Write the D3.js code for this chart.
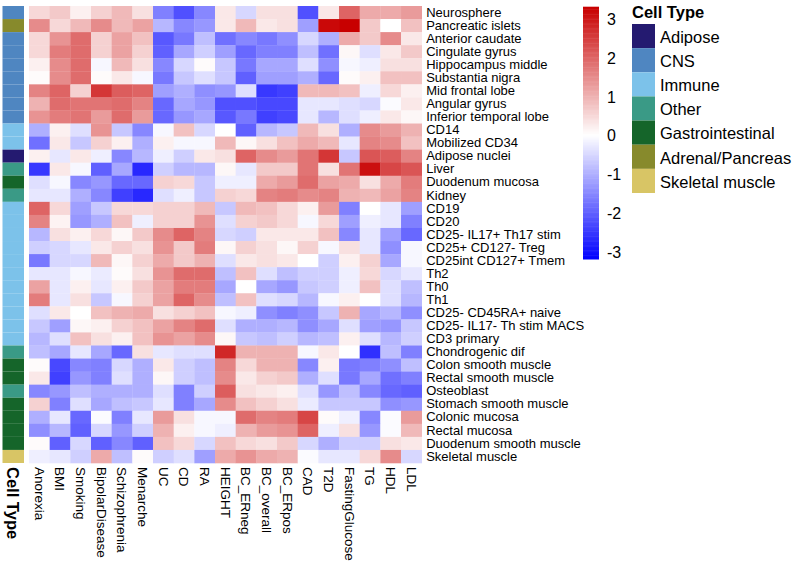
<!DOCTYPE html>
<html>
<head>
<meta charset="utf-8">
<script src="https://cdn.jsdelivr.net/npm/d3@7"></script>
<style>
  html, body { margin: 0; padding: 0; background: #ffffff; }
  svg { display: block; font-family: "Liberation Sans", Arial, sans-serif; }
</style>
</head>
<body>
<svg id="chart" width="800" height="567"></svg>
<script>
const traits = ["Anorexia","BMI","Smoking","BipolarDisease","Schizophrenia","Menarche","UC","CD","RA","HEIGHT","BC_ERneg","BC_overall","BC_ERpos","CAD","T2D","FastingGlucose","TG","HDL","LDL"];

const tissues = ["Neurosphere","Pancreatic islets","Anterior caudate","Cingulate gyrus","Hippocampus middle","Substantia nigra","Mid frontal lobe","Angular gyrus","Inferior temporal lobe","CD14","Mobilized CD34","Adipose nuclei","Liver","Duodenum mucosa","Kidney","CD19","CD20","CD25- IL17+ Th17 stim","CD25+ CD127- Treg","CD25int CD127+ Tmem","Th2","Th0","Th1","CD25- CD45RA+ naive","CD25- IL17- Th stim MACS","CD3 primary","Chondrogenic dif","Colon smooth muscle","Rectal smooth muscle","Osteoblast","Stomach smooth muscle","Colonic mucosa","Rectal mucosa","Duodenum smooth muscle","Skeletal muscle"];

const tissueTypes = ["CNS","Adrenal/Pancreas","CNS","CNS","CNS","CNS","CNS","CNS","CNS","Immune","Immune","Adipose","Other","Gastrointestinal","Other","Immune","Immune","Immune","Immune","Immune","Immune","Immune","Immune","Immune","Immune","Immune","Other","Gastrointestinal","Gastrointestinal","Other","Gastrointestinal","Gastrointestinal","Gastrointestinal","Gastrointestinal","Skeletal muscle"];

const cellTypes = ["Adipose","CNS","Immune","Other","Gastrointestinal","Adrenal/Pancreas","Skeletal muscle"];
const cellTypeColors = ["#241a70","#4f86c1","#7cc2ea","#3a9a86","#15652a","#878a2c","#d8c565"];

const scaleTicks = [3,2,1,0,-1,-2,-3];
const scaleRange = [-3.2, 3.3];

// values: rows = tissues, columns = traits
const values = [
 [ 0.5, 0.7, 0.2, 0.6, 0.9, 0.4,-1.6,-2.2,-1.5, 0.3,-0.5, 0.4, 0.4,-2.2, 0.3, 2.0, 1.1, 1.1, 1.3],
 [ 1.5, 0.5, 0.9, 1.5, 0.9, 1.2,-0.9,-1.5,-1.3, 0.3, 0.9, 0.3, 0.4,-1.2, 3.2, 3.3, 0.7, 0.0, 0.8],
 [ 0.5, 1.4, 1.9, 0.6, 1.2, 0.8,-2.1,-1.7,-0.8,-1.8,-1.5,-1.7,-1.4,-0.5,-1.0, 1.1, 0.7, 1.5, 0.3],
 [ 0.5, 1.7, 1.9, 0.6, 1.2, 0.6,-2.0,-1.1,-0.6,-1.2,-1.9,-1.6,-1.6,-0.8,-1.8, 0.1,-0.4, 0.3, 0.7],
 [ 0.2, 1.5, 1.9,-0.1, 0.9, 0.4,-1.5,-0.5, 0.05,-0.7,-1.7,-1.1,-1.1,-0.4,-1.4,-0.1,-0.2, 0.4, 0.4],
 [ 0.05,1.5, 1.9, 0.05,0.3,-0.1,-1.7,-0.7,-0.4,-0.7,-2.0,-1.2,-1.2,-1.0,-1.9, 0.05,0.2, 0.8, 0.8],
 [ 1.6, 2.0, 0.6, 2.6, 2.1, 2.0,-1.2,-1.0,-1.4,-1.3,-0.4,-2.5,-2.4, 0.9, 0.9, 0.8,-0.2, 0.5, 0.2],
 [ 1.0, 1.9, 1.8, 1.8, 1.9, 1.6,-1.9,-1.1,-1.3,-2.2,-2.2,-2.3,-2.3,-0.3,-0.3,-0.4,-0.5,-0.05,0.3],
 [ 1.4, 1.7, 1.8, 1.3, 1.9, 1.3,-1.9,-1.3,-1.1,-2.1,-1.7,-2.4,-2.3,-0.3,-0.9,-0.4,-0.2, 0.3, 0.1],
 [-1.0, 0.2,-0.4, 1.4,-0.7,-1.5,-0.1, 0.8,-0.5, 0.0,-2.0,-0.9,-0.7, 0.9, 0.4,-1.0, 1.5, 1.3, 1.0],
 [-1.8, 0.3,-0.7, 0.6, 0.2,-1.0, 0.2,-0.1,-0.1, 0.9, 0.1, 0.4, 0.8, 1.1, 0.9,-0.3, 1.6, 1.5, 0.8],
 [ 0.2,-0.3, 0.3,-0.2,-1.5,-0.9,-0.2,-0.6, 0.3, 0.4, 2.0, 1.5, 1.3, 1.8, 2.6,-0.7, 2.2, 2.1, 1.6],
 [-2.5, 0.3,-0.1,-2.0,-1.1,-2.7,-0.6,-0.9,-0.9, 0.1,-0.3, 0.7, 0.7, 1.8, 0.4, 1.8, 3.1, 2.4, 2.2],
 [-0.4,-0.1,-1.5,-1.3,-1.9,-1.9, 0.6, 0.5,-0.7,-0.2,-0.2, 1.1, 1.3, 1.9, 1.2, 1.1, 0.4, 1.1, 1.7],
 [-0.3,-0.3,-1.0,-1.5,-2.4,-2.7,-0.4,-0.2,-0.7, 0.6, 0.5, 1.6, 1.7, 1.5, 1.6, 1.0, 0.9, 1.2, 1.6],
 [ 2.0, 0.5,-1.2,-0.7, 0.5, 0.5, 0.6, 0.6, 0.9,-0.7, 0.9, 0.8, 0.5, 0.2, 1.3,-1.6, 0.0,-0.3,-1.2],
 [ 1.6, 0.15,-1.3,-1.0,0.8,-0.2, 0.6, 0.6, 1.4,-0.4, 0.6, 0.7, 0.5,-0.1, 0.5,-1.2,-0.2,-0.3,-1.6],
 [-0.9, 0.4, 0.2, 0.5, 0.1, 0.7, 1.5, 2.0, 1.6,-0.5,-0.6, 0.3, 0.3, 0.3, 0.8,-1.5,-0.3,-1.2,-1.9],
 [-0.6,-0.5,-0.3, 0.3, 0.6, 0.4, 1.4, 0.7, 1.7, 0.1, 0.6, 0.4, 0.1, 0.6,-0.1, 0.4,-0.3,-1.4,-0.1],
 [-1.7,-0.5,-0.5, 0.9, 0.1, 0.6, 1.1, 0.7, 1.0,-0.4, 0.3, 0.4, 0.3, 0.0,-0.6, 0.2, 0.6,-1.1,-0.1],
 [-0.3,-0.3,-0.1,-0.25,0.05,0.4, 1.4, 1.9, 1.9,-0.8, 0.8,-0.4,-0.8,-0.6,-0.6,-0.2, 0.5,-0.5,-0.3],
 [ 1.2,-0.3, 0.2,-0.3, 0.2, 0.7, 1.2, 1.7, 1.7,-1.1, 0.0,-1.1,-1.3,-0.7,-0.6,-0.2, 0.8,-0.4,-0.8],
 [ 1.7,-0.3, 0.4,-0.7,-0.1, 0.6, 1.2, 2.0, 1.5,-0.8, 0.8,-0.4,-0.5,-0.9,-0.1, 0.2, 0.0,-0.4,-0.9],
 [-0.4, 0.3, 0.0, 0.8, 1.0, 1.1, 0.4, 0.6, 0.8,-0.1,-0.2,-1.4,-1.6,-1.4,-0.7, 1.0,-1.1,-0.9,-1.4],
 [-0.7,-1.2, 0.1, 0.2, 0.6, 0.8, 1.2, 1.6, 1.9,-0.4,-1.0,-1.0,-0.9,-1.4,-1.1,-0.4,-1.2,-1.3,-0.7],
 [-0.9,-0.4, 0.8, 0.4, 0.2, 0.8, 1.4, 1.2, 1.5, 0.1,-0.7,-0.8,-0.6,-0.9,-0.8, 0.2,-0.4,-0.9,-0.6],
 [-0.8,-1.1,-0.3,-1.1,-1.9, 0.4,-0.3,-0.4,-0.4, 2.8, 1.0, 1.0, 1.0,-0.1, 0.3, 0.0,-2.6,-0.8,-1.6],
 [ 0.05,-2.3,-1.5,-1.6,-0.5,-1.0, 0.3,-0.6,-0.8, 1.6, 0.5, 1.0, 1.0,-1.5, 0.2,-1.7,-1.6,-1.4,-0.8],
 [ 0.3,-2.4,-1.3,-1.6,-0.4,-1.0, 0.1,-0.6,-0.8, 1.5, 0.3, 0.6, 0.7,-1.0,-0.4,-1.7,-1.1,-1.8,-1.6],
 [-1.5,-1.3,-0.8,-1.0,-1.0,-1.0,-0.4,-1.6,-0.6, 2.1, 0.4, 0.3, 0.2,-0.4,-1.3,-0.8,-1.5,-1.9,-2.0],
 [ 0.6,-1.6,-0.4,-1.1,-0.8,-0.7,-0.3,-1.6,-1.1, 1.5, 0.8, 0.6, 0.4,-0.25,-0.7,-0.7,-0.7,-1.4,-1.3],
 [-1.0,-0.3,-1.9,-0.05,-1.6,-0.3,1.3, 0.4,-0.1,-0.1, 1.9, 1.6, 1.7, 2.4, 0.05,-0.2,-1.5,-0.05,1.3],
 [-1.4,-0.9,-2.0,-0.5,-1.3,-0.6, 1.0, 0.2,-0.1,-0.2, 1.0, 1.3, 1.4, 2.0,-0.2, 0.4,-1.3,-0.05,0.9],
 [ 0.05,-2.0,-0.5,-2.0,-1.5,-2.0, 0.8, 0.5,-0.5, 0.8, 0.5, 0.4, 0.7,-0.5,-1.0,-0.6,-0.6, 0.4, 0.3],
 [-0.2,-0.3,-0.6, 1.1,-0.8, 0.05,-0.6,-0.4,-1.2, 1.1, 1.4, 1.1, 1.0,-0.05,-0.3,-0.3, 0.5, 1.5,-0.5]
];

const svg = d3.select("#chart");

const heat = { left: 29, top: 6, right: 421.7, bottom: 463 };
const x = d3.scaleBand().domain(traits).range([heat.left, heat.right]).padding(0);
const y = d3.scaleBand().domain(tissues).range([heat.top, heat.bottom]).padding(0);
const color = d3.scaleLinear().domain([scaleRange[0], 0, scaleRange[1]])
  .range(["#0000ff", "#ffffff", "#c80000"]).clamp(true);
const typeColor = d3.scaleOrdinal().domain(cellTypes).range(cellTypeColors);

// annotation column
const annX = d3.scaleBand().domain(["Cell Type"]).range([2.5, 24]);
svg.append("g").selectAll("rect").data(tissues).join("rect")
  .attr("x", annX("Cell Type"))
  .attr("y", d => y(d))
  .attr("width", annX.bandwidth())
  .attr("height", y.bandwidth())
  .attr("fill", (d, i) => typeColor(tissueTypes[i]));

// heatmap cells
const cells = [];
values.forEach((row, i) => row.forEach((v, j) => cells.push({ t: tissues[i], c: traits[j], v })));
svg.append("g").selectAll("rect").data(cells).join("rect")
  .attr("x", d => x(d.c))
  .attr("y", d => y(d.t))
  .attr("width", x.bandwidth() + 0.3)
  .attr("height", y.bandwidth() + 0.3)
  .attr("fill", d => color(d.v));

// row labels
const rowAxis = svg.append("g")
  .attr("transform", `translate(${heat.right + 1},0)`)
  .call(d3.axisRight(y).tickSize(0).tickPadding(3.5));
rowAxis.select(".domain").remove();
rowAxis.selectAll("text").attr("font-size", 13).attr("font-family", "Liberation Sans, Arial, sans-serif").attr("fill", "#000");

// column labels
const colAxis = svg.append("g")
  .attr("transform", `translate(0,${heat.bottom + 4})`)
  .call(d3.axisBottom(x).tickSize(0).tickPadding(0));
colAxis.select(".domain").remove();
colAxis.selectAll("text")
  .attr("font-size", 13.5)
  .attr("font-family", "Liberation Sans, Arial, sans-serif")
  .attr("fill", "#000")
  .attr("text-anchor", "start")
  .attr("dy", "0.35em")
  .attr("transform", "rotate(90)")
  .attr("x", 0).attr("y", 0);

// annotation column label
svg.append("text")
  .attr("transform", `translate(${annX("Cell Type") + annX.bandwidth() / 2},${heat.bottom + 4}) rotate(90)`)
  .attr("dy", "0.35em")
  .attr("font-size", 16.5)
  .attr("font-weight", "bold")
  .attr("fill", "#000")
  .text("Cell Type");

// colour bar legend
const barTop = 6.7, barBottom = 259;
const barScale = d3.scaleLinear().domain([scaleRange[1], scaleRange[0]]).range([barTop, barBottom]);
const barSteps = d3.range(0, 200).map(i => scaleRange[1] - (scaleRange[1] - scaleRange[0]) * i / 200);
const stepH = (barBottom - barTop) / 200;
svg.append("g").selectAll("rect").data(barSteps).join("rect")
  .attr("x", 583).attr("width", 16)
  .attr("y", d => barScale(d))
  .attr("height", stepH + 0.5)
  .attr("fill", d => color(d));
svg.append("g").selectAll("text").data(scaleTicks).join("text")
  .attr("x", 607)
  .attr("y", d => barScale(d) + 1)
  .attr("dy", "0.35em")
  .attr("font-size", 16)
  .attr("fill", "#000")
  .text(d => d);

// cell type legend
const leg = svg.append("g");
leg.append("text").attr("x", 632).attr("y", 18).attr("font-size", 16.5).attr("font-weight", "bold")
  .attr("fill", "#000").text("Cell Type");
const legY = d3.scaleBand().domain(cellTypes).range([24, 193]);
leg.selectAll("rect").data(cellTypes).join("rect")
  .attr("x", 632).attr("width", 23)
  .attr("y", d => legY(d)).attr("height", legY.bandwidth())
  .attr("fill", d => typeColor(d));
leg.selectAll("text.lab").data(cellTypes).join("text").attr("class", "lab")
  .attr("x", 660)
  .attr("y", d => legY(d) + legY.bandwidth() / 2 + 1)
  .attr("dy", "0.35em")
  .attr("font-size", 16.5)
  .attr("fill", "#000")
  .text(d => d);
</script>
</body>
</html>
